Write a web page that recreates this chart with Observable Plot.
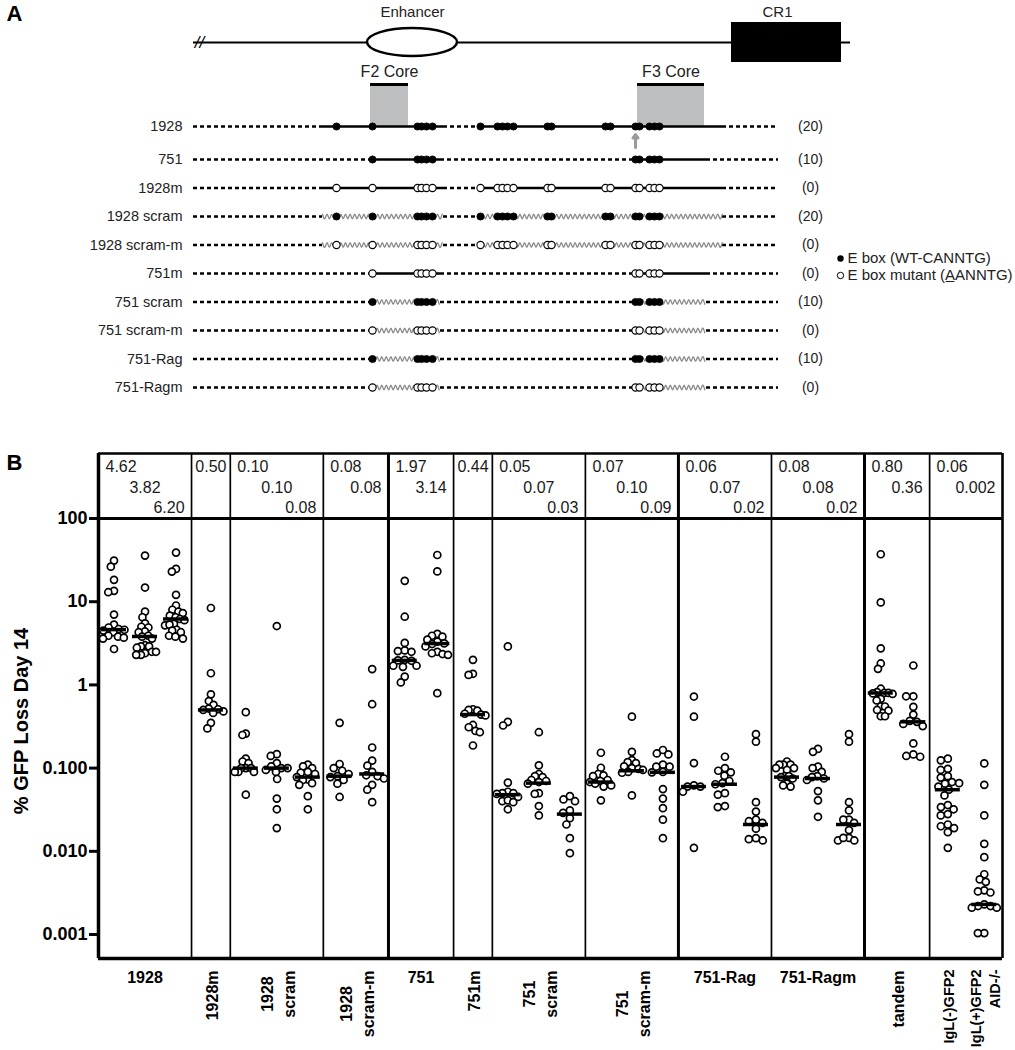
<!DOCTYPE html>
<html>
<head>
<meta charset="utf-8">
<script src="https://cdn.jsdelivr.net/npm/d3@7"></script>
<script src="https://cdn.jsdelivr.net/npm/@observablehq/plot@0.6"></script>
<style>
  body { margin: 0; background: #fff; font-family: "Liberation Sans", Arial, Helvetica, sans-serif; }
  #chart svg { display: block; }
</style>
</head>
<body>
<div id="chart"></div>
<script>
// ================= PANEL A DATA (construct schematic) =================
const constructRows = ["1928", "751", "1928m", "1928 scram", "1928 scram-m", "751m", "751 scram", "751 scram-m", "751-Rag", "751-Ragm"];
const rowBase      = ["1928", "751", "1928", "1928", "1928", "751", "751", "751", "751", "751"];
const rowMutant    = [false, false, true, false, true, true, false, true, false, true];
const rowScrambled = [false, false, false, true, true, false, true, true, true, true];
const rowCounts    = ["(20)", "(10)", "(0)", "(20)", "(0)", "(0)", "(10)", "(0)", "(10)", "(0)"];
// E box positions along the construct (relative position units)
const eboxPos1928 = [146, 182, 227, 231, 236, 242, 290, 307, 312, 317, 323, 357, 361, 415, 420, 445, 449, 459, 464, 469];
const eboxPos751  = [182, 227, 231, 236, 242, 445, 449, 459, 464, 469];
// Fragment segments carried by each construct
const segments1928 = [[132, 253], [288, 532]];
const segments751  = [[182, 250], [443, 516]];
const constructSpan = [3, 588];
const locusSpan = [3, 660];
const coreNames = ["F2 Core", "F3 Core"];
const coreStart = [180, 447];
const coreEnd   = [218, 514];
const enhancerSpan = [177, 267];
const cr1Span = [541, 651];
const legendTexts = ["E box (WT-CANNTG)", "E box mutant (A\u0332ANNTG)"];

// ================= PANEL B DATA (% GFP loss day 14) =================
const groups = ["1928", "1928m", "1928 scram", "1928 scram-m", "751", "751m", "751 scram", "751 scram-m", "751-Rag", "751-Ragm", "tandem", "IgL"];
const groupValues = [
  [ [31.2, 26.4, 18.3, 13.5, 13.0, 7.0, 5.3, 4.9, 4.7, 4.6, 4.5, 4.3, 3.9, 3.8, 3.7, 3.6, 2.7],
    [35.8, 14.8, 7.6, 6.5, 5.5, 5.0, 4.9, 4.4, 4.3, 3.9, 3.8, 3.6, 3.0, 2.9, 2.9, 2.8, 2.5, 2.4, 2.3, 2.3, 2.5],
    [38.9, 24.8, 23.0, 12.1, 9.0, 8.0, 7.6, 7.3, 6.8, 6.5, 6.2, 6.0, 5.4, 5.2, 5.3, 4.6, 4.5, 4.3, 3.9, 3.6, 3.8] ],
  [ [8.4, 1.38, 0.77, 0.64, 0.575, 0.52, 0.51, 0.50, 0.48, 0.46, 0.35, 0.30] ],
  [ [0.47, 0.26, 0.25, 0.13, 0.12, 0.115, 0.10, 0.10, 0.10, 0.09, 0.09, 0.09, 0.048],
    [5.1, 0.147, 0.14, 0.115, 0.105, 0.10, 0.10, 0.095, 0.09, 0.074, 0.043, 0.032, 0.019],
    [0.11, 0.105, 0.10, 0.09, 0.088, 0.085, 0.078, 0.073, 0.072, 0.063, 0.066, 0.046, 0.032] ],
  [ [0.35, 0.112, 0.10, 0.093, 0.085, 0.08, 0.078, 0.072, 0.065, 0.045],
    [1.55, 0.586, 0.177, 0.123, 0.107, 0.09, 0.082, 0.08, 0.075, 0.063, 0.055, 0.039] ],
  [ [17.8, 6.6, 3.2, 2.6, 2.5, 2.55, 2.0, 1.97, 1.95, 1.7, 1.7, 1.65, 1.26, 1.07],
    [36.4, 23.1, 4.1, 3.9, 3.8, 3.5, 3.3, 3.15, 3.1, 2.9, 2.5, 2.4, 2.35, 2.3, 0.795] ],
  [ [2.0, 1.36, 1.32, 0.51, 0.50, 0.49, 0.45, 0.44, 0.43, 0.33, 0.31, 0.28, 0.27, 0.187] ],
  [ [2.9, 0.36, 0.325, 0.067, 0.052, 0.05, 0.05, 0.049, 0.045, 0.04, 0.041, 0.039, 0.032],
    [0.27, 0.108, 0.085, 0.08, 0.078, 0.072, 0.07, 0.068, 0.065, 0.05, 0.049, 0.035, 0.027],
    [0.046, 0.042, 0.040, 0.031, 0.029, 0.025, 0.021, 0.0144, 0.0095] ],
  [ [0.153, 0.101, 0.085, 0.08, 0.082, 0.072, 0.07, 0.068, 0.065, 0.062, 0.06, 0.041],
    [0.415, 0.157, 0.125, 0.118, 0.115, 0.105, 0.10, 0.098, 0.095, 0.09, 0.088, 0.047],
    [0.165, 0.15, 0.146, 0.11, 0.104, 0.104, 0.09, 0.089, 0.056, 0.043, 0.033, 0.024, 0.0144] ],
  [ [0.725, 0.415, 0.115, 0.062, 0.06, 0.06, 0.052, 0.011],
    [0.137, 0.1, 0.093, 0.089, 0.081, 0.07, 0.066, 0.064, 0.05, 0.048, 0.035, 0.034],
    [0.256, 0.208, 0.039, 0.030, 0.024, 0.023, 0.022, 0.0187, 0.0144, 0.014, 0.0135] ],
  [ [0.12, 0.11, 0.11, 0.11, 0.10, 0.095, 0.1, 0.08, 0.08, 0.078, 0.075, 0.065, 0.062, 0.06],
    [0.17, 0.157, 0.104, 0.1, 0.09, 0.08, 0.078, 0.075, 0.072, 0.053, 0.041, 0.026],
    [0.256, 0.208, 0.039, 0.031, 0.024, 0.024, 0.022, 0.018, 0.0145, 0.0135, 0.0135, 0.0145] ],
  [ [37.2, 9.8, 2.75, 1.81, 1.56, 0.9, 0.82, 0.8, 0.8, 0.79, 0.78, 0.68, 0.65, 0.55, 0.55, 0.5, 0.49, 0.42, 0.42],
    [1.71, 0.73, 0.73, 0.545, 0.44, 0.37, 0.36, 0.34, 0.32, 0.198, 0.146, 0.137, 0.14] ],
  [ [0.13, 0.124, 0.098, 0.095, 0.08, 0.077, 0.068, 0.065, 0.066, 0.06, 0.055, 0.047, 0.036, 0.034, 0.032, 0.028, 0.027, 0.021, 0.02, 0.019, 0.017, 0.011],
    [0.114, 0.063, 0.027, 0.0123, 0.0085, 0.0053, 0.0046, 0.0043, 0.0034, 0.0033, 0.0032, 0.0023, 0.0022, 0.0022, 0.0021, 0.0021, 0.00104, 0.00104] ]
];
const groupMedians = [
  [4.62, 3.82, 6.20], [0.50], [0.10, 0.10, 0.078], [0.08, 0.085], [1.97, 3.14], [0.44],
  [0.048, 0.066, 0.028], [0.068, 0.093, 0.089], [0.06, 0.064, 0.021], [0.078, 0.075, 0.021],
  [0.80, 0.36], [0.055, 0.0023]
];
const medianText = [
  ["4.62", "3.82", "6.20"], ["0.50"], ["0.10", "0.10", "0.08"], ["0.08", "0.08"], ["1.97", "3.14"], ["0.44"],
  ["0.05", "0.07", "0.03"], ["0.07", "0.10", "0.09"], ["0.06", "0.07", "0.02"], ["0.08", "0.08", "0.02"],
  ["0.80", "0.36"], ["0.06", "0.002"]
];
const groupLabels = ["1928", "1928m", "1928\nscram", "1928\nscram-m", "751", "751m", "751\nscram", "751\nscram-m", "751-Rag", "751-Ragm", "tandem", ["IgL(-)GFP2", "IgL(+)GFP2\nAID-/-"]];
const labelVertical = [false, true, true, true, false, true, true, true, false, false, true, true];
const yTicks = [100, 10, 1, 0.1, 0.01, 0.001];
const yTickText = ["100", "10", "1", "0.100", "0.010", "0.001"];
const yTitle = "% GFP Loss Day 14";

// ================= LAYOUT =================
const W = 1015;
const FONT = '"Liberation Sans", Arial, Helvetica, sans-serif';
const groupSpan = [3, 1.25, 3, 2.1, 2.1, 1.25, 3, 3, 3, 3, 2.1, 2.35];
const thickAfter = [3, 7, 9];

// ---------------- Panel A ----------------
const HA = 440;
const rowY = i => (i === 0 ? 126 : 159 + (i - 1) * 28.5);
const lineY = 42, coreTop = 84, coreBottom = 126;
const eboxPos = {"1928": eboxPos1928, "751": eboxPos751};
const segs = {"1928": segments1928, "751": segments751};

const dashSegs = [], solidSegs = [], wavePts = [], eboxes = [], rowsA = [];
constructRows.forEach((name, i) => {
  const y = rowY(i);
  rowsA.push({name, y, count: rowCounts[i]});
  const sg = segs[rowBase[i]];
  let cur = constructSpan[0];
  for (const [a, b] of sg) { dashSegs.push({x1: cur, x2: a, y}); cur = b; }
  dashSegs.push({x1: cur, x2: constructSpan[1], y});
  sg.forEach(([a, b], k) => {
    if (rowScrambled[i]) {
      let n = 0;
      for (let x = a; x <= b; x += 2.3, n++) wavePts.push({x, y: y + (n % 2 ? 2.3 : -2.3), id: i + "-" + k});
    } else solidSegs.push({x1: a, x2: b, y});
  });
  for (const p of eboxPos[rowBase[i]]) eboxes.push({x: p, y, mut: rowMutant[i]});
});
const coresA = coreNames.map((name, i) => ({name, x1: coreStart[i], x2: coreEnd[i], y1: coreTop, y2: coreBottom}));
const legendY = [258, 275];
const legendX = 650;

const plotA = Plot.plot({
  width: W, height: HA, margin: 0,
  x: {domain: [-190, W - 190], range: [0, W], axis: null},
  y: {domain: [0, HA], range: [0, HA], axis: null},
  style: {fontFamily: FONT, background: "white", overflow: "visible"},
  marks: [
    Plot.text(["A"], {x: -176, y: 13, fontSize: 22, fontWeight: "bold", fill: "black"}),
    // locus line
    Plot.ruleY([{x1: locusSpan[0], x2: locusSpan[1], y: lineY}], {x1: "x1", x2: "x2", y: "y", stroke: "black", strokeWidth: 2}),
    Plot.text(["//"], {x: locusSpan[0] + 6, y: lineY, fontSize: 17, fontStyle: "italic", fill: "black"}),
    Plot.rect([{x1: enhancerSpan[0], x2: enhancerSpan[1], y1: lineY - 14, y2: lineY + 14}], {x1: "x1", x2: "x2", y1: "y1", y2: "y2", rx: 45, ry: 14, fill: "white", stroke: "black", strokeWidth: 2.5}),
    Plot.text(["Enhancer"], {x: (enhancerSpan[0] + enhancerSpan[1]) / 2, y: 12, fontSize: 15, fill: "#222"}),
    Plot.rect([{x1: cr1Span[0], x2: cr1Span[1], y1: lineY - 20, y2: lineY + 20}], {x1: "x1", x2: "x2", y1: "y1", y2: "y2", fill: "black"}),
    Plot.text(["CR1"], {x: (cr1Span[0] + cr1Span[1]) / 2 - 9, y: 12, fontSize: 15, fill: "#222"}),
    // cores
    Plot.rect(coresA, {x1: "x1", x2: "x2", y1: "y1", y2: "y2", fill: "#bcbec0"}),
    Plot.ruleY(coresA, {x1: "x1", x2: "x2", y: "y1", stroke: "black", strokeWidth: 3}),
    Plot.text(coresA, {x: d => (d.x1 + d.x2) / 2, y: 71, text: "name", fontSize: 16, fill: "#222"}),
    // construct lines
    Plot.ruleY(dashSegs, {x1: "x1", x2: "x2", y: "y", stroke: "black", strokeWidth: 2.6, strokeDasharray: "4 3"}),
    Plot.ruleY(solidSegs, {x1: "x1", x2: "x2", y: "y", stroke: "black", strokeWidth: 2.4}),
    Plot.line(wavePts, {x: "x", y: "y", z: "id", curve: "natural", stroke: "#8a8a8a", strokeWidth: 1.3}),
    Plot.dot(eboxes.filter(d => !d.mut), {x: "x", y: "y", r: 3.6, fill: "black", stroke: "black", strokeWidth: 0.8}),
    Plot.dot(eboxes.filter(d => d.mut), {x: "x", y: "y", r: 3.6, fill: "white", stroke: "black", strokeWidth: 1.1}),
    Plot.arrow([{x: eboxPos1928[15], y1: rowY(0) + 21, y2: rowY(0) + 8}], {x1: "x", x2: "x", y1: "y1", y2: "y2", stroke: "#9a9a9a", strokeWidth: 3, headLength: 6, headAngle: 70}),
    // row labels and counts
    Plot.text(rowsA, {x: -8, y: "y", text: "name", textAnchor: "end", fontSize: 14.5, fill: "#222"}),
    Plot.text(rowsA, {x: 620, y: "y", text: "count", fontSize: 14, fill: "#222"}),
    // legend
    Plot.dot([{y: legendY[0]}], {x: legendX, y: "y", r: 3.2, fill: "black"}),
    Plot.dot([{y: legendY[1]}], {x: legendX, y: "y", r: 3.2, fill: "white", stroke: "black", strokeWidth: 1}),
    Plot.text(legendTexts.map((t, i) => ({t, y: legendY[i]})), {x: legendX + 7, y: "y", text: "t", textAnchor: "start", fontSize: 15, fill: "#222"})
  ]
});

// ---------------- Panel B ----------------
const HB = 610, mL = 98, mR = 13, mT = 78, mB = 92, tableH = 65;
const yMin = 0.000515, yMax = 100;
const total = d3.sum(groupSpan);
const pxU = (W - mL - mR) / total;
const pxDec = (HB - mT - mB) / (Math.log10(yMax) - Math.log10(yMin));
const R = 3.5, D = 2 * R + 0.2;

function swarm(vals, cap) {
  const pts = vals.map(v => ({v, py: Math.log10(v) * pxDec, px: 0}));
  const order = pts.slice().sort((a, b) => b.v - a.v);
  const placed = [];
  for (const p of order) {
    const cands = [0];
    for (const q of placed) {
      const dy = Math.abs(q.py - p.py);
      if (dy < D) { const dx = Math.sqrt(D * D - dy * dy); cands.push(q.px + dx, q.px - dx); }
    }
    cands.sort((a, b) => Math.abs(a) - Math.abs(b) || a - b);
    for (const c of cands) {
      if (placed.every(q => (q.px - c) ** 2 + (q.py - p.py) ** 2 >= D * D - 1e-6)) { p.px = c; break; }
    }
    placed.push(p);
  }
  const m = d3.max(pts, p => Math.abs(p.px));
  if (m > cap) for (const p of pts) p.px *= cap / m;
  return pts;
}

const ctx = document.createElement("canvas").getContext("2d");
ctx.font = `bold 16px ${FONT}`;
const textW = s => Math.max(...s.split("\n").map(l => ctx.measureText(l).width));

const dotsB = [], medsB = [], tableMarks = [], labelMarks = [], thinDiv = [], thickDiv = [];
let cum = 0;
groups.forEach((g, gi) => {
  const start = cum, span = groupSpan[gi], end = start + span, n = groupValues[gi].length, colW = span / n;
  groupValues[gi].forEach((vals, j) => {
    const cx = start + (j + 0.5) * colW;
    const cap = Math.min(12.5, colW * pxU / 2 - R - 1);
    for (const p of swarm(vals, cap)) dotsB.push({x: cx + p.px / pxU, y: p.v});
    medsB.push({y: groupMedians[gi][j], x1: cx - 12.5 / pxU, x2: cx + 12.5 / pxU});
    let anchor, x, dx;
    if (n === 1) { anchor = "middle"; x = (start + end) / 2; dx = 0; }
    else if (j === 0) { anchor = "start"; x = start; dx = 7; }
    else if (j === n - 1) { anchor = "end"; x = end; dx = -7; }
    else { anchor = "middle"; x = (start + end) / 2; dx = 0; }
    tableMarks.push(Plot.text([{x, t: medianText[gi][j]}], {x: "x", text: "t", frameAnchor: "top", dx, dy: [-52, -31, -11][j], textAnchor: anchor, lineAnchor: "middle", fontSize: 16, fill: "#1a1a1a"}));
  });
  const lab = groupLabels[gi];
  if (Array.isArray(lab)) {
    lab.forEach((t, j) => {
      labelMarks.push(Plot.text([{x: start + (j + 0.5) * colW, t}], {x: "x", text: "t", frameAnchor: "bottom", rotate: -90, textAnchor: "end", lineAnchor: "middle", lineHeight: 1.3, dy: 11, fontSize: 14.5, fontWeight: "bold", fill: "black"}));
    });
  } else if (labelVertical[gi]) {
    labelMarks.push(Plot.text([{x: (start + end) / 2, t: lab}], {x: "x", text: "t", frameAnchor: "bottom", rotate: -90, textAnchor: "middle", lineAnchor: "middle", lineHeight: 1.35, dy: 12 + textW(lab) / 2, fontSize: 16, fontWeight: "bold", fill: "black"}));
  } else {
    labelMarks.push(Plot.text([{x: (start + end) / 2, t: lab}], {x: "x", text: "t", frameAnchor: "bottom", textAnchor: "middle", lineAnchor: "middle", dy: 19.5, fontSize: 16, fontWeight: "bold", fill: "black"}));
  }
  cum = end;
  if (gi < groups.length - 1) (thickAfter.includes(gi) ? thickDiv : thinDiv).push(end);
});

const plotB = Plot.plot({
  width: W, height: HB, marginLeft: mL, marginRight: mR, marginTop: mT, marginBottom: mB,
  x: {domain: [0, total], axis: null},
  y: {type: "log", domain: [yMin, yMax], axis: null},
  style: {fontFamily: FONT, background: "white", overflow: "visible"},
  marks: [
    Plot.text(["B"], {frameAnchor: "top-left", dx: -84, dy: -56, textAnchor: "middle", lineAnchor: "middle", fontSize: 22, fontWeight: "bold", fill: "black"}),
    Plot.ruleX(thinDiv, {insetTop: -tableH, stroke: "black", strokeWidth: 1.7}),
    Plot.ruleX(thickDiv, {insetTop: -tableH, stroke: "black", strokeWidth: 3}),
    Plot.ruleX([total], {insetTop: -tableH, stroke: "black", strokeWidth: 2.6}),
    Plot.ruleY([yMax], {dy: -tableH, stroke: "black", strokeWidth: 2.6}),
    Plot.ruleY([yMax], {stroke: "black", strokeWidth: 3.2}),
    Plot.ruleY([yMin], {stroke: "black", strokeWidth: 3.5}),
    Plot.ruleX([0], {insetTop: -tableH, stroke: "black", strokeWidth: 3.5}),
    Plot.axisY(yTicks, {tickFormat: d => yTickText[yTicks.indexOf(d)], tickSize: 9, tickPadding: 2, fontSize: 18, fontWeight: "bold", strokeWidth: 3, label: null, fill: "black"}),
    Plot.text([yTitle], {frameAnchor: "left", dx: -76.5, dy: -17.5, rotate: -90, textAnchor: "middle", lineAnchor: "middle", fontSize: 20, fontWeight: "bold", fill: "black"}),
    ...tableMarks,
    Plot.dot(dotsB, {x: "x", y: "y", r: R, fill: "white", stroke: "black", strokeWidth: 1.7}),
    Plot.ruleY(medsB, {y: "y", x1: "x1", x2: "x2", stroke: "black", strokeWidth: 3.5}),
    ...labelMarks
  ]
});

const chart = document.getElementById("chart");
chart.append(plotA, plotB);
</script>
</body>
</html>
